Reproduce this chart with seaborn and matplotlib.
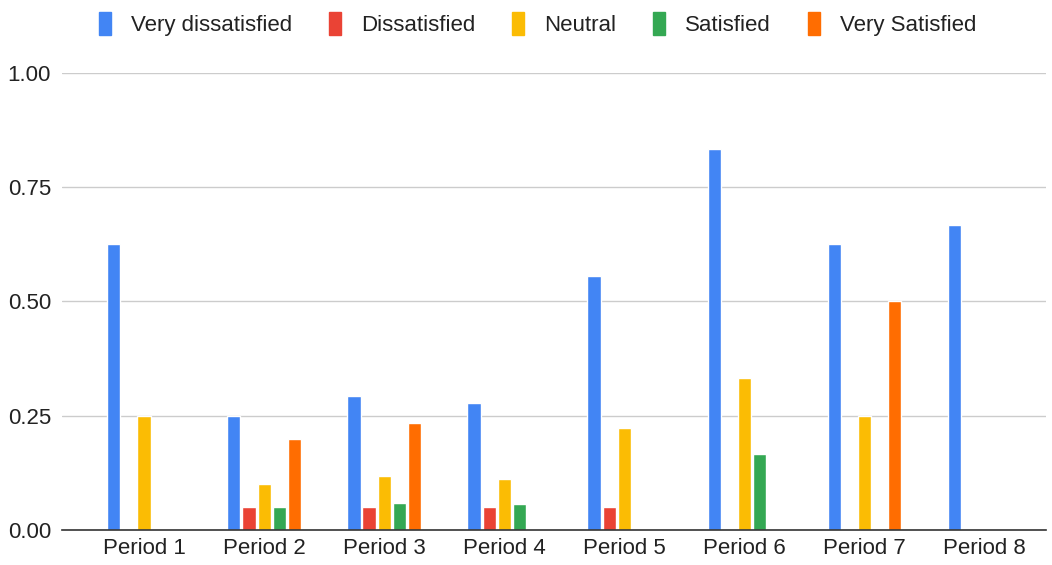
import pandas as pd
import matplotlib
matplotlib.use("Agg")
import matplotlib.pyplot as plt
import seaborn as sns

# Data
periods = ["Period 1", "Period 2", "Period 3", "Period 4",
           "Period 5", "Period 6", "Period 7", "Period 8"]
very_dissatisfied = [0.625, 0.25, 0.294, 0.278, 0.556, 0.833, 0.625, 0.667]
dissatisfied = [0, 0.05, 0.05, 0.05, 0.05, 0, 0, 0]
neutral = [0.25, 0.10, 0.118, 0.111, 0.222, 0.333, 0.25, 0]
satisfied = [0, 0.05, 0.059, 0.056, 0, 0.167, 0, 0]
very_satisfied = [0, 0.20, 0.235, 0, 0, 0, 0.50, 0]

levels = ["Very dissatisfied", "Dissatisfied", "Neutral", "Satisfied", "Very Satisfied"]
colors = ["#4285F4", "#EA4335", "#FBBC04", "#34A853", "#FF6D01"]

series = [very_dissatisfied, dissatisfied, neutral, satisfied, very_satisfied]
rows = []
for lvl, vals in zip(levels, series):
    for p, v in zip(periods, vals):
        rows.append({"period": p, "level": lvl, "share": v})
df = pd.DataFrame(rows)

sns.set_style("white")
plt.rcParams["font.family"] = ["Liberation Sans", "DejaVu Sans"]

fig = plt.figure(figsize=(10.52, 5.65), dpi=100)
ax = fig.add_axes([0.059, 0.062, 0.935, 0.809])

sns.barplot(data=df, x="period", y="share", hue="level", hue_order=levels,
            palette=colors, width=0.63, gap=0.13, ax=ax, legend=False,
            saturation=1)

ax.set_ylim(0, 1.0)
ax.set_xlim(-0.683, 7.51)
ax.set_yticks([0, 0.25, 0.5, 0.75, 1.0])
ax.set_yticklabels(["0.00", "0.25", "0.50", "0.75", "1.00"])
ax.yaxis.grid(True, color="#cccccc", linewidth=1)
ax.set_axisbelow(True)
ax.set_xlabel("")
ax.set_ylabel("")
for s in ["top", "right", "left"]:
    ax.spines[s].set_visible(False)
ax.spines["bottom"].set_color("#333333")
ax.spines["bottom"].set_linewidth(1.2)
ax.tick_params(axis="both", length=0, labelsize=16, colors="#222222")
ax.tick_params(axis="y", pad=8)
ax.tick_params(axis="x", pad=6)

handles = [plt.Rectangle((0, 0), 1, 1, color=c) for c in colors]
fig.legend(handles, levels, loc="center", bbox_to_anchor=(0.511, 0.958), ncol=5,
           frameon=False, fontsize=16, handlelength=0.55, handleheight=1.2,
           columnspacing=1.65, handletextpad=0.9, labelcolor="#222222")

plt.savefig("out.png", dpi=100)
plt.close()
